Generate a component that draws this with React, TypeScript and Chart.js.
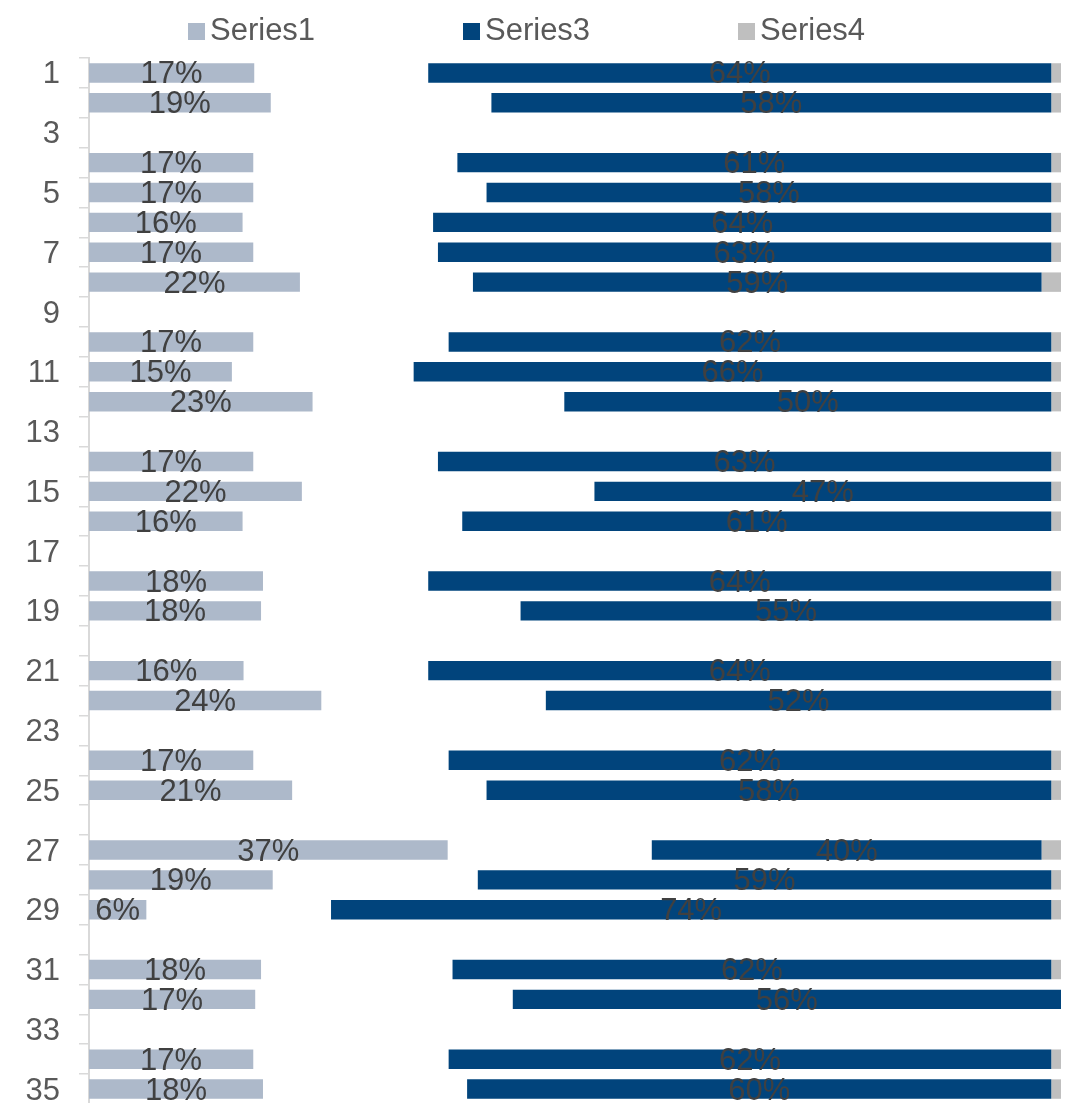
import React, { useEffect, useRef } from 'react';
import { Chart, registerables } from 'chart.js';

Chart.register(...registerables);

const FONT = '"Liberation Sans", Arial, sans-serif';

const categories = [
  '1', '2', '3', '4', '5', '6', '7', '8', '9', '10', '11', '12', '13', '14', '15', '16', '17', '18',
  '19', '20', '21', '22', '23', '24', '25', '26', '27', '28', '29', '30', '31', '32', '33', '34', '35',
];

const series1 = [17, 18.7, null, 16.9, 16.9, 15.8, 16.9, 21.7, null, 16.9, 14.7, 23.0, null, 16.9, 21.9, 15.8, null, 17.9, 17.7, null, 15.9, 23.9, null, 16.9, 20.9, null, 36.9, 18.9, 5.9, null, 17.7, 17.1, null, 16.9, 17.9];
const series2 = [17.9, 22.7, null, 21.0, 24.0, 19.6, 19.0, 17.8, null, 20.1, 18.7, 25.9, null, 19.0, 30.1, 22.6, null, 17.0, 26.7, null, 19.0, 23.1, null, 20.1, 20.0, null, 21.0, 21.1, 19.0, null, 19.7, 26.5, null, 20.1, 21.0];
const series3 = [64.1, 57.6, null, 61.1, 58.1, 63.6, 63.1, 58.5, null, 62.0, 65.6, 50.1, null, 63.1, 47.0, 60.6, null, 64.1, 54.6, null, 64.1, 52.0, null, 62.0, 58.1, null, 40.1, 59.0, 74.1, null, 61.6, 56.4, null, 62.0, 60.1];
const series4 = [1, 1, null, 1, 1, 1, 1, 2, null, 1, 1, 1, null, 1, 1, 1, null, 1, 1, null, 1, 1, null, 1, 1, null, 2, 1, 1, null, 1, 0, null, 1, 1];

const seriesNames = ['Series1', 'Series2', 'Series3', 'Series4'];
const legendNames = ['Series1', 'Series3', 'Series4'];
const labelledSeries = ['Series1', 'Series3'];

const COLORS: Record<string, string> = {
  Series1: '#ADB9CA',
  Series2: 'rgba(0,0,0,0)',
  Series3: '#01447C',
  Series4: '#BFBFBF',
};

const barLabelPlugin = {
  id: 'barLabels',
  afterDatasetsDraw(chart: any) {
    const ctx = chart.ctx;
    ctx.save();
    ctx.font = `31px ${FONT}`;
    ctx.fillStyle = '#404040';
    ctx.textAlign = 'center';
    ctx.textBaseline = 'middle';
    chart.data.datasets.forEach((ds: any, di: number) => {
      if (!labelledSeries.includes(ds.label)) return;
      const meta = chart.getDatasetMeta(di);
      meta.data.forEach((el: any, i: number) => {
        const v = ds.data[i];
        if (v === null || v === undefined) return;
        const { x, y, base } = el.getProps(['x', 'y', 'base'], true);
        ctx.fillText(Math.round(v) + '%', (x + base) / 2, y + 2);
      });
    });
    ctx.restore();
  },
};

const LEGEND_LEFT = 180;
const LEGEND_STEP = 275;
const LEGEND_BOX = 17;
const LEGEND_BOX_TOP = 15;
const LEGEND_TEXT_Y = 23;
const LEGEND_TEXT_GAP = 22;

const legendPlugin = {
  id: 'topLegend',
  afterDraw(chart: any) {
    const ctx = chart.ctx;
    ctx.save();
    ctx.font = `31px ${FONT}`;
    ctx.textAlign = 'left';
    ctx.textBaseline = 'middle';
    const items = chart.data.datasets.filter((d: any) => legendNames.includes(d.label));
    items.forEach((ds: any, k: number) => {
      const bx = LEGEND_LEFT + k * LEGEND_STEP;
      ctx.fillStyle = ds.backgroundColor;
      ctx.fillRect(bx, LEGEND_BOX_TOP, LEGEND_BOX, LEGEND_BOX);
      ctx.fillStyle = '#595959';
      ctx.fillText(ds.label, bx + LEGEND_TEXT_GAP, LEGEND_TEXT_Y);
    });
    ctx.restore();
  },
};

const Y_AXIS_WIDTH = 81;

export default function App() {
  const canvasRef = useRef<HTMLCanvasElement | null>(null);

  useEffect(() => {
    const canvas = canvasRef.current;
    if (!canvas) return;
    const dataSets = [series1, series2, series3, series4];
    const chart = new Chart(canvas, {
      type: 'bar',
      data: {
        labels: categories,
        datasets: seriesNames.map((name, i) => ({
          label: name,
          data: dataSets[i],
          backgroundColor: COLORS[name],
          borderWidth: 0,
          barPercentage: 0.65,
          categoryPercentage: 1,
        })),
      },
      options: {
        indexAxis: 'y',
        responsive: false,
        animation: false,
        events: [],
        layout: { padding: { top: 50, left: 0, right: 7, bottom: 7 } },
        plugins: {
          legend: { display: false },
          tooltip: { enabled: false },
          title: { display: false },
        },
        scales: {
          x: { stacked: true, min: 0, max: 100, display: false },
          y: {
            stacked: true,
            grid: {
              display: true,
              drawOnChartArea: false,
              drawTicks: true,
              tickLength: 10,
              color: '#D9D9D9',
              lineWidth: 1.5,
              offset: true,
            },
            border: { display: true, color: '#D9D9D9', width: 2 },
            ticks: {
              autoSkip: false,
              padding: 19,
              labelOffset: 2,
              color: '#595959',
              font: { family: FONT, size: 31 },
              callback: (_v: any, i: number) => (i % 2 === 0 ? categories[i] : ''),
            },
            afterFit: (scale: any) => {
              scale.width = Y_AXIS_WIDTH;
              scale.paddingTop = 0;
              scale.paddingBottom = 0;
            },
          },
        },
      } as any,
      plugins: [barLabelPlugin, legendPlugin],
    });
    return () => chart.destroy();
  }, []);

  return (
    <div style={{ position: 'relative', width: 1060, height: 1103, marginBottom: -8 }}>
      <canvas ref={canvasRef} width={1060} height={1103} style={{ display: 'block', width: 1060, height: 1103 }} />
    </div>
  );
}
